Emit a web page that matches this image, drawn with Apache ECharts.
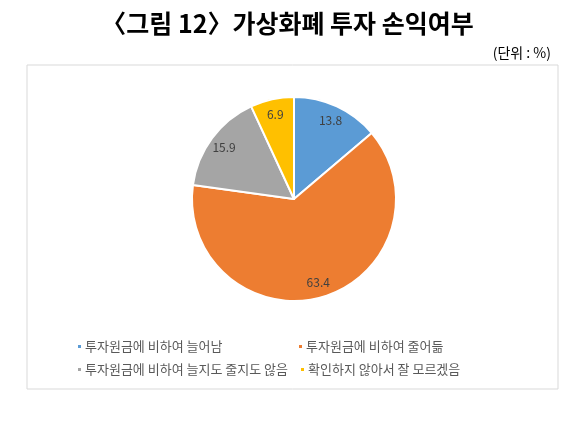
<!DOCTYPE html>
<html>
<head>
<meta charset="utf-8">
<script src="https://cdn.jsdelivr.net/npm/echarts@6/dist/echarts.min.js"></script>
<style>
  html, body { margin: 0; padding: 0; background: #fff; }
  #chart { width: 575px; height: 429px; }
</style>
</head>
<body>
<div id="chart"></div>
<script>
// 범주와 값
const categories = [
  '투자원금에 비하여 늘어남',
  '투자원금에 비하여 줄어듦',
  '투자원금에 비하여 늘지도 줄지도 않음',
  '확인하지 않아서 잘 모르겠음'
];
const values = [13.8, 63.4, 15.9, 6.9];
const colors = ['#5B9BD5', '#ED7D31', '#A5A5A5', '#FFC000'];

const chart = echarts.init(document.getElementById('chart'));

const pieData = categories.map((name, i) => ({
  name: name,
  value: values[i],
  itemStyle: { color: colors[i] }
}));

// 범례 위치 (아이콘 왼쪽 x, y)
const legendPos = [[76, 340], [297, 340], [76, 363], [299, 363]];

const option = {
  backgroundColor: '#fff',
  title: [
    {
      text: '〈그림 12〉가상화폐 투자 손익여부',
      left: 'center',
      top: 6,
      textStyle: {
        fontFamily: 'Noto Sans CJK KR',
        fontSize: 25,
        fontWeight: 'bold',
        color: '#000'
      }
    },
    {
      text: '(단위 : %)',
      right: 19,
      top: 41,
      textStyle: {
        fontFamily: 'Noto Sans CJK KR',
        fontSize: 14,
        fontWeight: 'normal',
        color: '#000'
      }
    }
  ],
  graphic: [{
    type: 'rect',
    shape: { x: 27, y: 65, width: 531, height: 324 },
    style: { fill: 'none', stroke: '#D9D9D9', lineWidth: 1 },
    silent: true,
    z: -1
  }],
  legend: legendPos.map((p, i) => ({
    data: [categories[i]],
    left: p[0],
    top: p[1],
    icon: 'rect',
    itemWidth: 5,
    itemHeight: 5,
    itemGap: 0,
    padding: 0,
    textStyle: {
      fontFamily: 'Noto Sans CJK KR',
      fontSize: 13,
      color: '#595959',
      padding: [0, 0, 0, -2]
    },
    selectedMode: false
  })),
  series: [
    {
      type: 'pie',
      center: [294, 199],
      radius: [0, 102],
      startAngle: 90,
      clockwise: true,
      data: pieData,
      itemStyle: { borderColor: '#fff', borderWidth: 2 },
      label: { show: false },
      labelLine: { show: false },
      emphasis: { disabled: true }
    },
    {
      // 라벨 위치 조정용 투명 계열
      type: 'pie',
      center: [294, 199],
      radius: [66, 102],
      startAngle: 90,
      clockwise: true,
      silent: true,
      data: categories.map((name, i) => ({ name: name, value: values[i] })),
      itemStyle: { color: 'rgba(0,0,0,0)' },
      label: {
        show: true,
        position: 'inside',
        formatter: '{c}',
        fontFamily: 'Noto Sans CJK KR',
        fontSize: 12,
        color: '#404040'
      },
      labelLine: { show: false },
      emphasis: { disabled: true }
    }
  ]
};

chart.setOption(option);
</script>
</body>
</html>
